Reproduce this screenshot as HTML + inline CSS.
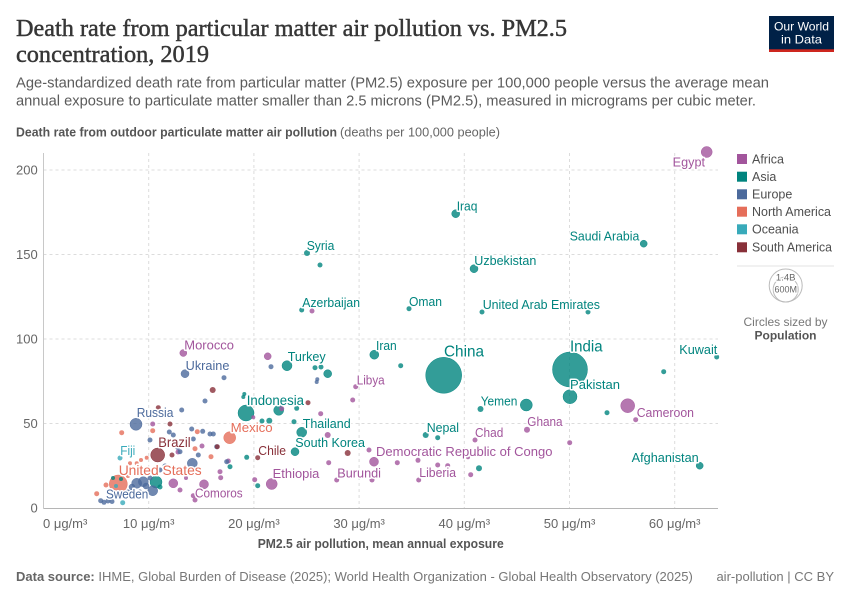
<!DOCTYPE html>
<html><head><meta charset="utf-8"><style>
html,body{margin:0;padding:0;background:#fff;}
svg{display:block;}
text{font-family:"Liberation Sans",sans-serif;}
.lab{font-size:12.5px;paint-order:stroke;stroke:#fff;stroke-width:3px;stroke-linejoin:round;}
.tick{font-size:13px;fill:#666;}
</style></head><body>
<svg width="850" height="600" viewBox="0 0 850 600" xmlns="http://www.w3.org/2000/svg">
<rect width="850" height="600" fill="#fff"/>
<!-- Header -->
<text x="16" y="36" font-size="24" fill="#363636" stroke="#363636" stroke-width="0.45" textLength="551" lengthAdjust="spacingAndGlyphs" style="font-family:'Liberation Serif',serif">Death rate from particular matter air pollution vs. PM2.5</text>
<text x="16" y="62" font-size="24" fill="#363636" stroke="#363636" stroke-width="0.45" textLength="193" lengthAdjust="spacingAndGlyphs" style="font-family:'Liberation Serif',serif">concentration, 2019</text>
<text x="16" y="87.5" font-size="14.5" fill="#5b5b5b" textLength="753" lengthAdjust="spacingAndGlyphs">Age-standardized death rate from particular matter (PM2.5) exposure per 100,000 people versus the average mean</text>
<text x="16" y="105.5" font-size="14.5" fill="#5b5b5b" textLength="740" lengthAdjust="spacingAndGlyphs">annual exposure to particulate matter smaller than 2.5 microns (PM2.5), measured in micrograms per cubic meter.</text>
<text x="16" y="136.5" font-size="13" font-weight="bold" fill="#555" textLength="321" lengthAdjust="spacingAndGlyphs">Death rate from outdoor particulate matter air pollution</text>
<text x="340" y="136.5" font-size="13" fill="#666" textLength="160" lengthAdjust="spacingAndGlyphs">(deaths per 100,000 people)</text>
<!-- Logo -->
<rect x="769" y="16" width="65" height="36" fill="#002147"/>
<rect x="769" y="49.3" width="65" height="2.7" fill="#ce261e"/>
<text x="801.5" y="30.5" font-size="12" fill="#fff" text-anchor="middle" textLength="55" lengthAdjust="spacingAndGlyphs">Our World</text>
<text x="801.5" y="43.5" font-size="12" fill="#fff" text-anchor="middle" textLength="41" lengthAdjust="spacingAndGlyphs">in Data</text>

<!-- Grid -->
<g stroke="#dcdcdc" stroke-width="1" stroke-dasharray="3,3" fill="none">
<line x1="43.5" y1="170" x2="718" y2="170"/>
<line x1="43.5" y1="254.5" x2="718" y2="254.5"/>
<line x1="43.5" y1="339" x2="718" y2="339"/>
<line x1="43.5" y1="423.5" x2="718" y2="423.5"/>
<line x1="148.7" y1="153" x2="148.7" y2="508"/>
<line x1="253.9" y1="153" x2="253.9" y2="508"/>
<line x1="359.1" y1="153" x2="359.1" y2="508"/>
<line x1="464.3" y1="153" x2="464.3" y2="508"/>
<line x1="569.5" y1="153" x2="569.5" y2="508"/>
<line x1="674.7" y1="153" x2="674.7" y2="508"/>
</g>
<line x1="43.5" y1="153" x2="43.5" y2="508.5" stroke="#c8c8c8" stroke-width="1"/>
<line x1="43.5" y1="508.5" x2="718" y2="508.5" stroke="#b5b5b5" stroke-width="1"/>

<!-- Y ticks -->
<g class="tick" text-anchor="end">
<text x="37.7" y="174.5">200</text>
<text x="37.7" y="259">150</text>
<text x="37.7" y="343.5">100</text>
<text x="37.7" y="428">50</text>
<text x="37.7" y="512.5">0</text>
</g>
<!-- X ticks -->
<g class="tick" text-anchor="middle">
<text x="43" y="528" text-anchor="start">0 μg/m³</text>
<text x="148.7" y="528">10 μg/m³</text>
<text x="253.9" y="528">20 μg/m³</text>
<text x="359.1" y="528">30 μg/m³</text>
<text x="464.3" y="528">40 μg/m³</text>
<text x="569.5" y="528">50 μg/m³</text>
<text x="674.7" y="528">60 μg/m³</text>
</g>
<text x="380.7" y="548" font-size="13" font-weight="bold" fill="#555" text-anchor="middle" textLength="246" lengthAdjust="spacingAndGlyphs">PM2.5 air pollution, mean annual exposure</text>

<!-- Footer -->
<text x="16" y="581" font-size="13" fill="#777"><tspan font-weight="bold" fill="#666">Data source:</tspan> IHME, Global Burden of Disease (2025); World Health Organization - Global Health Observatory (2025)</text>
<text x="834" y="581" font-size="13" fill="#777" text-anchor="end">air-pollution | CC BY</text>

<!-- Dots: big first -->
<g fill-opacity="0.8" stroke-opacity="0.9" stroke-width="0.5">
<circle cx="443.7" cy="375.3" r="18" fill="#00847e" stroke="#00847e"/>
<circle cx="570" cy="369.5" r="17.5" fill="#00847e" stroke="#00847e"/>
<circle cx="118.3" cy="484" r="9" fill="#e56e5a" stroke="#e56e5a"/>
<circle cx="246" cy="413" r="8" fill="#00847e" stroke="#00847e"/>
<circle cx="570" cy="396.7" r="7" fill="#00847e" stroke="#00847e"/>
<circle cx="157.7" cy="455" r="7" fill="#883039" stroke="#883039"/>
<circle cx="627.7" cy="405.7" r="7" fill="#a2559c" stroke="#a2559c"/>
<circle cx="526.3" cy="405" r="6" fill="#00847e" stroke="#00847e"/>
<circle cx="136" cy="424.3" r="6" fill="#4c6a9c" stroke="#4c6a9c"/>
<circle cx="229.7" cy="437.7" r="6" fill="#e56e5a" stroke="#e56e5a"/>
<circle cx="156" cy="482" r="6" fill="#00847e" stroke="#00847e"/>
<circle cx="706.7" cy="152" r="5.5" fill="#a2559c" stroke="#a2559c"/>
<circle cx="271.7" cy="484" r="5.5" fill="#a2559c" stroke="#a2559c"/>
<circle cx="287" cy="365.7" r="5" fill="#00847e" stroke="#00847e"/>
<circle cx="301.7" cy="432.3" r="5" fill="#00847e" stroke="#00847e"/>
<circle cx="278.7" cy="410.3" r="5" fill="#00847e" stroke="#00847e"/>
<circle cx="192.3" cy="463.3" r="5" fill="#4c6a9c" stroke="#4c6a9c"/>
<circle cx="136.7" cy="483.3" r="5" fill="#4c6a9c" stroke="#4c6a9c"/>
<circle cx="143.3" cy="481.7" r="5" fill="#4c6a9c" stroke="#4c6a9c"/>
<circle cx="152.7" cy="490.7" r="5" fill="#4c6a9c" stroke="#4c6a9c"/>
<circle cx="374" cy="461.7" r="4.5" fill="#a2559c" stroke="#a2559c"/>
<circle cx="374.3" cy="354.7" r="4.5" fill="#00847e" stroke="#00847e"/>
<circle cx="173.3" cy="483.3" r="4.5" fill="#a2559c" stroke="#a2559c"/>
<circle cx="204" cy="484.3" r="4.5" fill="#a2559c" stroke="#a2559c"/>
<circle cx="455.7" cy="213.7" r="4" fill="#00847e" stroke="#00847e"/>
<circle cx="474" cy="268.7" r="4" fill="#00847e" stroke="#00847e"/>
<circle cx="327.7" cy="373.7" r="4" fill="#00847e" stroke="#00847e"/>
<circle cx="295" cy="451.7" r="4" fill="#00847e" stroke="#00847e"/>
<circle cx="185" cy="373.7" r="4" fill="#4c6a9c" stroke="#4c6a9c"/>
<circle cx="643.7" cy="243.7" r="3.5" fill="#00847e" stroke="#00847e"/>
<circle cx="699.7" cy="465.7" r="3.5" fill="#00847e" stroke="#00847e"/>
<circle cx="267.7" cy="356.3" r="3.5" fill="#a2559c" stroke="#a2559c"/>
<circle cx="183.3" cy="353" r="3.5" fill="#a2559c" stroke="#a2559c"/>
<circle cx="146" cy="486" r="3" fill="#4c6a9c" stroke="#4c6a9c"/>
<circle cx="132" cy="487" r="3" fill="#4c6a9c" stroke="#4c6a9c"/>
</g>
<g fill-opacity="0.8">
<!-- Asia small -->
<g fill="#00847e">
<circle cx="480.5" cy="409" r="3"/>
<circle cx="307" cy="253" r="3"/>
<circle cx="320" cy="265" r="2.5"/>
<circle cx="301.7" cy="310" r="2.5"/>
<circle cx="409" cy="308.7" r="2.5"/>
<circle cx="482" cy="312" r="2.5"/>
<circle cx="588" cy="312" r="2.5"/>
<circle cx="716.7" cy="357" r="2.5"/>
<circle cx="663.7" cy="371.7" r="2.5"/>
<circle cx="607" cy="412.7" r="2.5"/>
<circle cx="400.7" cy="365.7" r="2.5"/>
<circle cx="315" cy="367.7" r="2.5"/>
<circle cx="321" cy="367" r="2.5"/>
<circle cx="425.7" cy="435" r="3"/>
<circle cx="437.7" cy="437.7" r="2.5"/>
<circle cx="479" cy="468.3" r="3"/>
<circle cx="294" cy="421.7" r="2.5"/>
<circle cx="296.7" cy="408.3" r="2.5"/>
<circle cx="269.3" cy="420.7" r="3"/>
<circle cx="244.3" cy="394" r="2"/>
<circle cx="243.3" cy="397" r="2"/>
<circle cx="246.7" cy="457.3" r="2.5"/>
<circle cx="257.7" cy="485.7" r="2.5"/>
<circle cx="230" cy="466.7" r="2.5"/>
<circle cx="262" cy="421" r="2.5"/>
<circle cx="113" cy="478" r="2"/>
<circle cx="121" cy="479" r="2"/>
<circle cx="160" cy="487" r="2.5"/>
</g>
<!-- Africa small -->
<g fill="#a2559c">
<circle cx="312" cy="311" r="2.5"/>
<circle cx="635.7" cy="419.7" r="2.5"/>
<circle cx="527" cy="429.7" r="3"/>
<circle cx="569.7" cy="442.7" r="2.5"/>
<circle cx="475" cy="440" r="2.5"/>
<circle cx="369" cy="450" r="2.5"/>
<circle cx="397.3" cy="462.7" r="2.5"/>
<circle cx="418" cy="460.3" r="2.5"/>
<circle cx="437.7" cy="465" r="2.5"/>
<circle cx="447.7" cy="465.7" r="2.5"/>
<circle cx="468" cy="457.3" r="2"/>
<circle cx="470.7" cy="474.7" r="2.5"/>
<circle cx="418.7" cy="480" r="2.5"/>
<circle cx="372" cy="480" r="2.5"/>
<circle cx="336.7" cy="480" r="2.5"/>
<circle cx="254.7" cy="479.7" r="2.5"/>
<circle cx="320.7" cy="413.7" r="2.5"/>
<circle cx="327.7" cy="435" r="3"/>
<circle cx="328.7" cy="462.7" r="2.5"/>
<circle cx="352.7" cy="400" r="2.5"/>
<circle cx="355.7" cy="386.7" r="2.5"/>
<circle cx="281.7" cy="408.7" r="2.5"/>
<circle cx="253.3" cy="417.3" r="2"/>
<circle cx="193.3" cy="495.7" r="2.5"/>
<circle cx="195" cy="500" r="2.5"/>
<circle cx="180" cy="490" r="2.5"/>
<circle cx="228.3" cy="461" r="2.5"/>
<circle cx="220" cy="471.7" r="2.5"/>
<circle cx="220.7" cy="477.7" r="2.5"/>
<circle cx="152.7" cy="424" r="2.5"/>
<circle cx="178" cy="452" r="2.5"/>
<circle cx="202" cy="446" r="2.5"/>
<circle cx="186" cy="478" r="2"/>
</g>
<!-- Europe small -->
<g fill="#4c6a9c">
<circle cx="271" cy="366.7" r="2.5"/>
<circle cx="317.3" cy="379.3" r="2"/>
<circle cx="316.7" cy="382" r="2"/>
<circle cx="224" cy="377.7" r="2.5"/>
<circle cx="205" cy="401" r="2.5"/>
<circle cx="181.7" cy="410" r="2.5"/>
<circle cx="191.7" cy="429" r="2.5"/>
<circle cx="202.7" cy="431.3" r="2.5"/>
<circle cx="210" cy="434" r="2.5"/>
<circle cx="213.3" cy="434" r="2.5"/>
<circle cx="169.3" cy="432" r="2.5"/>
<circle cx="173.3" cy="435" r="2.5"/>
<circle cx="150" cy="440" r="2.5"/>
<circle cx="193.3" cy="439" r="2.5"/>
<circle cx="177.7" cy="447.3" r="2.5"/>
<circle cx="198.3" cy="455" r="2.5"/>
<circle cx="180" cy="451.7" r="2.5"/>
<circle cx="226.7" cy="461.7" r="2.5"/>
<circle cx="216.7" cy="446.7" r="2.5"/>
<circle cx="100.7" cy="500.7" r="2.5"/>
<circle cx="104" cy="502.3" r="2.5"/>
<circle cx="108" cy="501" r="2.5"/>
<circle cx="112" cy="501.5" r="2.5"/>
<circle cx="128" cy="492" r="2.5"/>
<circle cx="150" cy="478" r="2.5"/>
<circle cx="160" cy="470" r="2.5"/>
<circle cx="165" cy="466" r="2.5"/>
<circle cx="140" cy="492" r="2.5"/>
</g>
<!-- North America small -->
<g fill="#e56e5a">
<circle cx="121.7" cy="432.7" r="2.5"/>
<circle cx="96.7" cy="493.7" r="2.5"/>
<circle cx="152.7" cy="430.7" r="2.5"/>
<circle cx="197.3" cy="431.7" r="2.5"/>
<circle cx="195" cy="448.7" r="2.5"/>
<circle cx="211" cy="456.7" r="2.5"/>
<circle cx="130" cy="463.3" r="2"/>
<circle cx="136.7" cy="463.3" r="2"/>
<circle cx="141" cy="460" r="2"/>
<circle cx="146.7" cy="457.7" r="2"/>
<circle cx="106" cy="485" r="2.5"/>
<circle cx="128" cy="476" r="2"/>
</g>
<!-- Oceania -->
<g fill="#38aaba">
<circle cx="120" cy="458" r="2.5"/>
<circle cx="122.7" cy="502.7" r="2.5"/>
<circle cx="116" cy="486" r="2"/>
</g>
<!-- South America -->
<g fill="#883039">
<circle cx="212.7" cy="390" r="3"/>
<circle cx="158.3" cy="407.7" r="2.5"/>
<circle cx="170" cy="424" r="2.5"/>
<circle cx="217.3" cy="446.7" r="2.5"/>
<circle cx="257.7" cy="457.7" r="2.5"/>
<circle cx="308" cy="402.7" r="2.5"/>
<circle cx="347.7" cy="453" r="3"/>
<circle cx="172" cy="455" r="2.5"/>
</g>
</g>

<!-- Labels -->
<g class="lab">
<g fill="#a2559c">
<text x="705" y="166.5" text-anchor="end" textLength="32.3" lengthAdjust="spacingAndGlyphs">Egypt</text>
<text x="636.7" y="417" textLength="57.3" lengthAdjust="spacingAndGlyphs">Cameroon</text>
<text x="527.3" y="426" textLength="35.3" lengthAdjust="spacingAndGlyphs">Ghana</text>
<text x="475" y="437" textLength="28.3" lengthAdjust="spacingAndGlyphs">Chad</text>
<text x="376" y="456" textLength="176.5" lengthAdjust="spacingAndGlyphs">Democratic Republic of Congo</text>
<text x="419.3" y="477" textLength="36.7" lengthAdjust="spacingAndGlyphs">Liberia</text>
<text x="337.3" y="477.5" textLength="43.7" lengthAdjust="spacingAndGlyphs">Burundi</text>
<text x="272.7" y="478" textLength="46.7" lengthAdjust="spacingAndGlyphs">Ethiopia</text>
<text x="356.7" y="384.5" textLength="28" lengthAdjust="spacingAndGlyphs">Libya</text>
<text x="184.3" y="349.5" textLength="49.7" lengthAdjust="spacingAndGlyphs">Morocco</text>
<text x="195" y="497.5" textLength="47.7" lengthAdjust="spacingAndGlyphs">Comoros</text>
</g>
<g fill="#00847e">
<text x="456.7" y="210.5" textLength="20.7" lengthAdjust="spacingAndGlyphs">Iraq</text>
<text x="639.3" y="240.5" text-anchor="end" textLength="69.6" lengthAdjust="spacingAndGlyphs">Saudi Arabia</text>
<text x="306.7" y="250" textLength="27.7" lengthAdjust="spacingAndGlyphs">Syria</text>
<text x="474.3" y="265" textLength="62" lengthAdjust="spacingAndGlyphs">Uzbekistan</text>
<text x="302.3" y="307" textLength="57.7" lengthAdjust="spacingAndGlyphs">Azerbaijan</text>
<text x="409" y="306" textLength="33" lengthAdjust="spacingAndGlyphs">Oman</text>
<text x="482.7" y="309" textLength="117.3" lengthAdjust="spacingAndGlyphs">United Arab Emirates</text>
<text x="717.3" y="354" text-anchor="end" textLength="38" lengthAdjust="spacingAndGlyphs">Kuwait</text>
<text x="570" y="351.6" font-size="15.5" textLength="32.6" lengthAdjust="spacingAndGlyphs">India</text>
<text x="444" y="356.5" font-size="16" textLength="40" lengthAdjust="spacingAndGlyphs">China</text>
<text x="376" y="349.8" textLength="20.7" lengthAdjust="spacingAndGlyphs">Iran</text>
<text x="287.7" y="361" font-size="13" textLength="38" lengthAdjust="spacingAndGlyphs">Turkey</text>
<text x="246.7" y="405" font-size="13.5" textLength="57.3" lengthAdjust="spacingAndGlyphs">Indonesia</text>
<text x="480.7" y="405.5" textLength="36.7" lengthAdjust="spacingAndGlyphs">Yemen</text>
<text x="570" y="389" font-size="13" textLength="50" lengthAdjust="spacingAndGlyphs">Pakistan</text>
<text x="302.7" y="428" font-size="13" textLength="48" lengthAdjust="spacingAndGlyphs">Thailand</text>
<text x="426.7" y="432" textLength="32.3" lengthAdjust="spacingAndGlyphs">Nepal</text>
<text x="295.3" y="447" font-size="13" textLength="69.7" lengthAdjust="spacingAndGlyphs">South Korea</text>
<text x="631.7" y="462" textLength="67" lengthAdjust="spacingAndGlyphs">Afghanistan</text>
</g>
<g fill="#4c6a9c">
<text x="185.7" y="370" textLength="43.7" lengthAdjust="spacingAndGlyphs">Ukraine</text>
<text x="136.7" y="417" font-size="13" textLength="36.7" lengthAdjust="spacingAndGlyphs">Russia</text>
<text x="106" y="498.5" textLength="42.3" lengthAdjust="spacingAndGlyphs">Sweden</text>
</g>
<g fill="#e56e5a">
<text x="230.7" y="432" font-size="13" textLength="42" lengthAdjust="spacingAndGlyphs">Mexico</text>
<text x="118.7" y="475" font-size="14" textLength="83" lengthAdjust="spacingAndGlyphs">United States</text>
</g>
<g fill="#883039">
<text x="158.3" y="447" font-size="13.5" textLength="32.3" lengthAdjust="spacingAndGlyphs">Brazil</text>
<text x="258.3" y="455" textLength="27.7" lengthAdjust="spacingAndGlyphs">Chile</text>
</g>
<g fill="#38aaba">
<text x="120.3" y="455" textLength="15" lengthAdjust="spacingAndGlyphs">Fiji</text>
</g>
</g>

<!-- Legend -->
<g font-size="12.5" fill="#4e4e4e">
<rect x="737" y="154" width="10" height="10" fill="#a2559c"/>
<text x="752" y="163.5">Africa</text>
<rect x="737" y="171.7" width="10" height="10" fill="#00847e"/>
<text x="752" y="181">Asia</text>
<rect x="737" y="189.3" width="10" height="10" fill="#4c6a9c"/>
<text x="752" y="198.7">Europe</text>
<rect x="737" y="206.7" width="10" height="10" fill="#e56e5a"/>
<text x="752" y="216" textLength="79" lengthAdjust="spacingAndGlyphs">North America</text>
<rect x="737" y="224.3" width="10" height="10" fill="#38aaba"/>
<text x="752" y="233.7">Oceania</text>
<rect x="737" y="242.3" width="10" height="10" fill="#883039"/>
<text x="752" y="251.7" textLength="80" lengthAdjust="spacingAndGlyphs">South America</text>
</g>
<line x1="737" y1="266" x2="834" y2="266" stroke="#e3e3e3" stroke-width="1"/>
<circle cx="785.7" cy="285.5" r="16.5" fill="none" stroke="#bbb" stroke-width="1"/>
<circle cx="785.7" cy="289.5" r="12.5" fill="none" stroke="#bbb" stroke-width="1"/>
<text x="785.7" y="280.5" font-size="9.5" fill="#666" text-anchor="middle" style="paint-order:stroke;stroke:#fff;stroke-width:2.5px">1.4B</text>
<text x="785.7" y="292.3" font-size="9" fill="#666" text-anchor="middle" style="paint-order:stroke;stroke:#fff;stroke-width:2.5px">600M</text>
<text x="785.5" y="326" font-size="12" fill="#777" text-anchor="middle">Circles sized by</text>
<text x="785.5" y="339.5" font-size="12" font-weight="bold" fill="#555" text-anchor="middle">Population</text>
</svg>
</body></html>
